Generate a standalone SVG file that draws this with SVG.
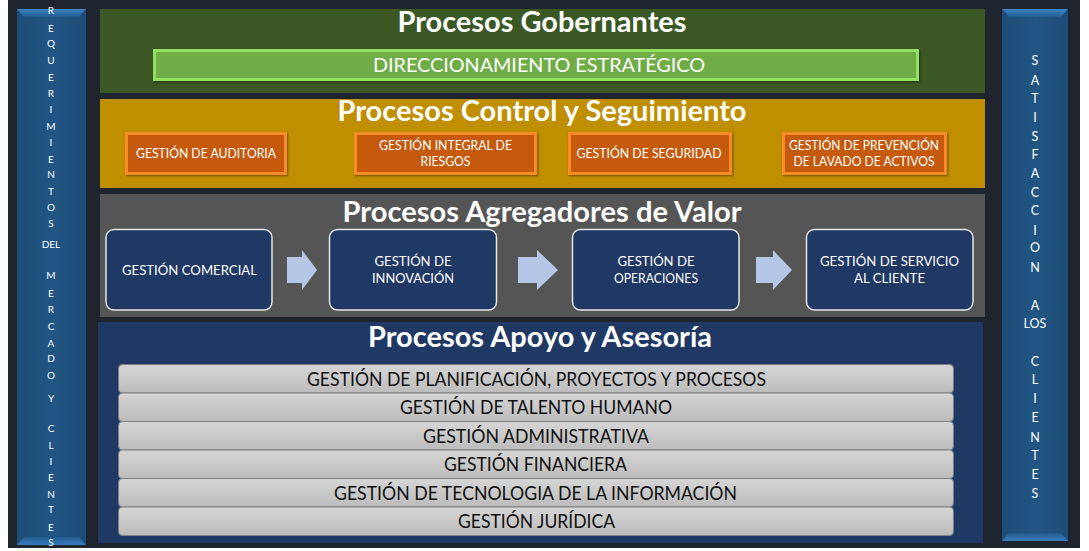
<svg xmlns="http://www.w3.org/2000/svg" width="1089" height="551" viewBox="0 0 1089 551">
<defs>
<linearGradient id="sideG" x1="0" y1="0" x2="1" y2="0">
<stop offset="0" stop-color="#1d4c77"/><stop offset="0.5" stop-color="#215583"/><stop offset="1" stop-color="#1d4c77"/>
</linearGradient>
<linearGradient id="bevT" x1="0" y1="0" x2="0" y2="1">
<stop offset="0" stop-color="#3d86c8"/><stop offset="1" stop-color="#225a8c"/>
</linearGradient>
<linearGradient id="bevB" x1="0" y1="0" x2="0" y2="1">
<stop offset="0" stop-color="#225a8c"/><stop offset="1" stop-color="#3a7fc0"/>
</linearGradient>
<linearGradient id="rowG" x1="0" y1="0" x2="0" y2="1">
<stop offset="0" stop-color="#d6d6d6"/><stop offset="1" stop-color="#bcbcbc"/>
</linearGradient>
<filter id="sh" x="-5%" y="-20%" width="110%" height="140%">
<feDropShadow dx="1" dy="1" stdDeviation="1.2" flood-color="#000" flood-opacity="0.45"/>
</filter>
</defs>
<style>
text{font-family:Lato,"Open Sans","Liberation Sans",sans-serif}
.side{fill:#ffffff;text-anchor:middle}
.l{font-size:10px}
.r{font-size:12.5px}
.h{font-size:28px;font-weight:bold;fill:#ffffff;text-anchor:middle}
.w{fill:#ffffff;text-anchor:middle}
.o{font-size:13px}
.b{font-size:14px}
.k{font-size:18.5px;fill:#111111;text-anchor:middle}
.orange{fill:#c55a11;stroke:#fb8b26;stroke-width:3}
.blue{fill:#1f3864;stroke:#e6e6e6;stroke-width:1.5}
.row{fill:url(#rowG);stroke:#7f7f7f;stroke-width:1}
.arrow{fill:#b4c7e7}
</style>
<rect x="8" y="0" width="1072" height="548" fill="#1f252e"/>

<g id="req-mercado">
<rect x="17" y="9" width="69" height="536" fill="url(#sideG)"/>
<polygon points="17,9 86,9 79,17 24,17" fill="url(#bevT)"/>
<polygon points="24,537 79,537 86,545 17,545" fill="url(#bevB)"/>
<g class="side l">
<text x="51" y="13.5">R</text><text x="51" y="31.5">E</text><text x="51" y="46.5">Q</text><text x="51" y="63.5">U</text>
<text x="51" y="80.5">E</text><text x="51" y="96.5">R</text><text x="51" y="112.5">I</text><text x="51" y="129.5">M</text>
<text x="51" y="145.5">I</text><text x="51" y="162.5">E</text><text x="51" y="177.5">N</text><text x="51" y="194.5">T</text>
<text x="51" y="210.5">O</text><text x="51" y="226.5">S</text><text x="51" y="247.5">DEL</text>
<text x="51" y="278.5">M</text><text x="51" y="296.5">E</text><text x="51" y="312.5">R</text><text x="51" y="329.5">C</text>
<text x="51" y="346.5">A</text><text x="51" y="361.5">D</text><text x="51" y="378.5">O</text><text x="51" y="401.5">Y</text>
<text x="51" y="431.5">C</text><text x="51" y="448.5">L</text><text x="51" y="464.5">I</text><text x="51" y="480.5">E</text>
<text x="51" y="497.5">N</text><text x="51" y="512.5">T</text><text x="51" y="530.5">E</text><text x="51" y="545.5">S</text>
</g>
</g>

<g id="satisfaccion">
<rect x="1002" y="9" width="66" height="532" fill="url(#sideG)"/>
<polygon points="1002,9 1068,9 1061,17 1009,17" fill="url(#bevT)"/>
<polygon points="1009,533 1061,533 1068,541 1002,541" fill="url(#bevB)"/>
<g class="side r">
<text x="1035" y="64.5">S</text><text x="1035" y="84.5">A</text><text x="1035" y="102.5">T</text><text x="1035" y="121.5">I</text>
<text x="1035" y="140.5">S</text><text x="1035" y="158.5">F</text><text x="1035" y="177.5">A</text><text x="1035" y="196.5">C</text>
<text x="1035" y="214.5">C</text><text x="1035" y="234.5">I</text><text x="1035" y="251.5">O</text><text x="1035" y="271.5">N</text>
<text x="1035" y="309.5">A</text><text x="1035" y="327.5">LOS</text>
<text x="1035" y="365.5">C</text><text x="1035" y="383.5">L</text><text x="1035" y="402.5">I</text><text x="1035" y="421.5">E</text>
<text x="1035" y="441.5">N</text><text x="1035" y="459.5">T</text><text x="1035" y="478.5">E</text><text x="1035" y="497.5">S</text>
</g>
</g>

<g id="gobernantes">
<rect x="100" y="9" width="885" height="84" fill="#3b5824"/>
<text class="h" x="542" y="32" textLength="289" lengthAdjust="spacingAndGlyphs">Procesos Gobernantes</text>
</g>
<g id="direccionamiento">
<rect x="154.5" y="50.5" width="763" height="29" fill="#70ad47" stroke="#93e05f" stroke-width="3" filter="url(#sh)"/>
<text class="w" x="539" y="72" font-size="20" textLength="332" lengthAdjust="spacingAndGlyphs">DIRECCIONAMIENTO ESTRATÉGICO</text>
</g>

<g id="control">
<rect x="100" y="99" width="885" height="89" fill="#bf8f00"/>
<text class="h" x="542" y="121" textLength="409" lengthAdjust="spacingAndGlyphs">Procesos Control y Seguimiento</text>
</g>
<g id="auditoria">
<rect class="orange" x="126.5" y="133.5" width="159" height="40" filter="url(#sh)"/>
<text class="w o" x="206" y="158" textLength="140" lengthAdjust="spacingAndGlyphs">GESTIÓN DE AUDITORIA</text>
</g>
<g id="riesgos">
<rect class="orange" x="355.5" y="133.5" width="180" height="40" filter="url(#sh)"/>
<text class="w o" x="445.5" y="150" textLength="133" lengthAdjust="spacingAndGlyphs">GESTIÓN INTEGRAL DE</text>
<text class="w o" x="445.5" y="166" textLength="50" lengthAdjust="spacingAndGlyphs">RIESGOS</text>
</g>
<g id="seguridad">
<rect class="orange" x="569.5" y="133.5" width="161" height="40" filter="url(#sh)"/>
<text class="w o" x="649" y="158" textLength="145" lengthAdjust="spacingAndGlyphs">GESTIÓN DE SEGURIDAD</text>
</g>
<g id="lavado">
<rect class="orange" x="783.5" y="133.5" width="162" height="40" filter="url(#sh)"/>
<text class="w o" x="864" y="150" textLength="150" lengthAdjust="spacingAndGlyphs">GESTIÓN DE PREVENCIÓN</text>
<text class="w o" x="864" y="166" textLength="141" lengthAdjust="spacingAndGlyphs">DE LAVADO DE ACTIVOS</text>
</g>

<g id="agregadores">
<rect x="100" y="194" width="885" height="123" fill="#555555"/>
<text class="h" x="542" y="222" textLength="399" lengthAdjust="spacingAndGlyphs">Procesos Agregadores de Valor</text>
</g>
<g id="comercial">
<rect class="blue" x="106" y="229.5" width="166" height="80.5" rx="8"/>
<text class="w b" x="189.5" y="275" textLength="135" lengthAdjust="spacingAndGlyphs">GESTIÓN COMERCIAL</text>
</g>
<g id="innovacion">
<rect class="blue" x="329.5" y="229.5" width="167" height="80.5" rx="8"/>
<text class="w b" x="413" y="266" textLength="77" lengthAdjust="spacingAndGlyphs">GESTIÓN DE</text>
<text class="w b" x="413" y="283" textLength="82" lengthAdjust="spacingAndGlyphs">INNOVACIÓN</text>
</g>
<g id="operaciones">
<rect class="blue" x="572.5" y="229.5" width="166.5" height="80.5" rx="8"/>
<text class="w b" x="656" y="266" textLength="77" lengthAdjust="spacingAndGlyphs">GESTIÓN DE</text>
<text class="w b" x="656" y="283" textLength="84" lengthAdjust="spacingAndGlyphs">OPERACIONES</text>
</g>
<g id="servicio">
<rect class="blue" x="806.5" y="229.5" width="166.5" height="80.5" rx="8"/>
<text class="w b" x="889.5" y="266" textLength="139" lengthAdjust="spacingAndGlyphs">GESTIÓN DE SERVICIO</text>
<text class="w b" x="889.5" y="283" textLength="71" lengthAdjust="spacingAndGlyphs">AL CLIENTE</text>
</g>

<g id="connectors">
<polygon class="arrow" points="287,257 302,257 302,250 317,270 302,290 302,283 287,283"/>
<polygon class="arrow" points="518,257 537,257 537,250 558,270 537,290 537,283 518,283"/>
<polygon class="arrow" points="756,257 773,257 773,250 792,270 773,290 773,283 756,283"/>
</g>

<g id="apoyo">
<rect x="98" y="322" width="885" height="221" fill="#203864"/>
<text class="h" x="540" y="347" textLength="344" lengthAdjust="spacingAndGlyphs">Procesos Apoyo y Asesoría</text>
</g>
<g id="planificacion">
<rect class="row" x="118.5" y="364.5" width="835" height="28.5" rx="4"/>
<text class="k" x="536.5" y="386" textLength="459" lengthAdjust="spacingAndGlyphs">GESTIÓN DE PLANIFICACIÓN, PROYECTOS Y PROCESOS</text>
</g>
<g id="talento">
<rect class="row" x="118.5" y="393" width="835" height="28.5" rx="4"/>
<text class="k" x="536" y="414" textLength="272" lengthAdjust="spacingAndGlyphs">GESTIÓN DE TALENTO HUMANO</text>
</g>
<g id="administrativa">
<rect class="row" x="118.5" y="421.5" width="835" height="28.5" rx="4"/>
<text class="k" x="536" y="443" textLength="226" lengthAdjust="spacingAndGlyphs">GESTIÓN ADMINISTRATIVA</text>
</g>
<g id="financiera">
<rect class="row" x="118.5" y="450" width="835" height="28.5" rx="4"/>
<text class="k" x="535.5" y="471" textLength="183" lengthAdjust="spacingAndGlyphs">GESTIÓN FINANCIERA</text>
</g>
<g id="tecnologia">
<rect class="row" x="118.5" y="478.5" width="835" height="28.5" rx="4"/>
<text class="k" x="535.5" y="499.5" textLength="403" lengthAdjust="spacingAndGlyphs">GESTIÓN DE TECNOLOGIA DE LA INFORMACIÓN</text>
</g>
<g id="juridica">
<rect class="row" x="118.5" y="507" width="835" height="28.5" rx="4"/>
<text class="k" x="536.5" y="528" textLength="157" lengthAdjust="spacingAndGlyphs">GESTIÓN JURÍDICA</text>
</g>
</svg>
